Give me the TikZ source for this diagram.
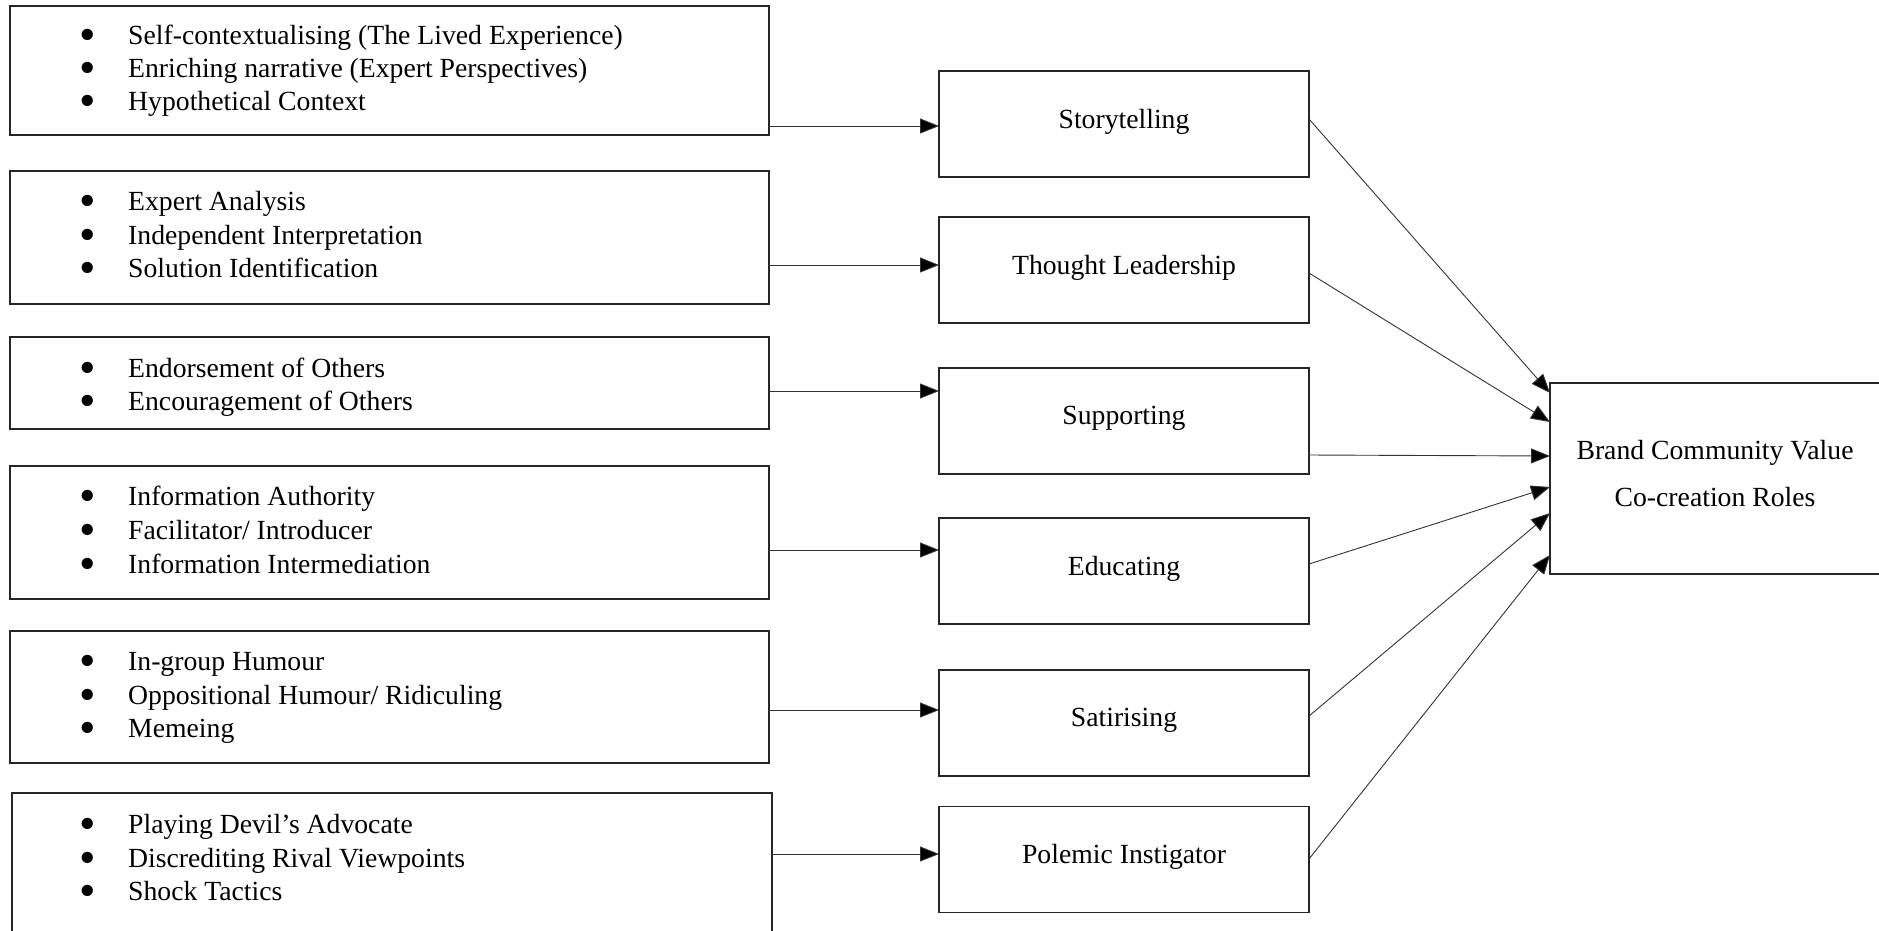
\documentclass[tikz,border=0pt]{standalone}
\usepackage{fontspec}
\usepackage{graphicx}
\setmainfont{Liberation Serif}
\usetikzlibrary{arrows.meta}
\newcommand\bigbul{\smash{\raisebox{-0.22em}{\scalebox{1.7}{\textbullet}}}}
\newcommand\bitem[3]{\node[item] (#1) at (79,#2) {\makebox[49pt][l]{\bigbul}#3};}
\begin{document}
\begin{tikzpicture}[x=1pt,y=-1pt,
  box/.style={draw=black!85,line width=1.1pt,inner sep=0pt,outer sep=0pt},
  item/.style={anchor=base west,inner sep=0pt,font=\fontsize{27.7}{33}\selectfont},
  lab/.style={box,minimum width=370pt,minimum height=106pt,font=\fontsize{27.7}{33}\selectfont},
  arr/.style={draw=black!80,line width=0.9pt,-{Triangle[length=19pt,width=15pt,fill=black]}}]
\useasboundingbox (0,0) rectangle (1879,930);
% left boxes
\node[box,minimum width=759pt,minimum height=129pt] (l1) at (389.5,70.5) {};
\node[box,minimum width=759pt,minimum height=133pt] (l2) at (389.5,237.5) {};
\node[box,minimum width=759pt,minimum height=92pt] (l3) at (389.5,383) {};
\node[box,minimum width=759pt,minimum height=133pt] (l4) at (389.5,532.5) {};
\node[box,minimum width=759pt,minimum height=132pt] (l5) at (389.5,697) {};
\node[box,minimum width=760pt,minimum height=147pt] (l6) at (392,866.5) {};
% bullet items
\bitem{a1}{44}{Self-contextualising (The Lived Experience)}
\bitem{a2}{77}{Enriching narrative (Expert Perspectives)}
\bitem{a3}{110}{Hypothetical Context}
\bitem{b1}{210}{Expert Analysis}
\bitem{b2}{244}{Independent Interpretation}
\bitem{b3}{277}{Solution Identification}
\bitem{c1}{377}{Endorsement of Others}
\bitem{c2}{410}{Encouragement of Others}
\bitem{d1}{505}{Information Authority}
\bitem{d2}{539}{Facilitator/ Introducer}
\bitem{d3}{573}{Information Intermediation}
\bitem{e1}{670}{In-group Humour}
\bitem{e2}{704}{Oppositional Humour/ Ridiculing}
\bitem{e3}{737}{Memeing}
\bitem{f1}{833}{Playing Devil’s Advocate}
\bitem{f2}{867}{Discrediting Rival Viewpoints}
\bitem{f3}{900}{Shock Tactics}
% middle boxes
\node[lab] (m1) at (1124,124) {\raisebox{11pt}{Storytelling}};
\node[lab] (m2) at (1124,270) {\raisebox{11pt}{Thought Leadership}};
\node[lab] (m3) at (1124,421) {\raisebox{11pt}{Supporting}};
\node[lab] (m4) at (1124,571) {\raisebox{11pt}{Educating}};
\node[lab] (m5) at (1124,723) {\raisebox{11pt}{Satirising}};
\node[lab] (m6) at (1124,859.5) {\raisebox{11pt}{Polemic Instigator}};
% right box
\node[box,minimum width=330pt,minimum height=191pt] (r) at (1715,478.5) {};
\node[align=center,inner sep=0pt,font=\fontsize{27.7}{47}\selectfont] (rt) at (1715,473.5)
  {Brand Community Value\\Co-creation Roles};
% left to middle arrows
\draw[arr] ([yshift=-55.5pt]l1.east) -- ([yshift=-2pt]m1.west);
\draw[arr] ([yshift=-27.5pt]l2.east) -- ([yshift=5pt]m2.west);
\draw[arr] ([yshift=-8pt]l3.east) -- ([yshift=30pt]m3.west);
\draw[arr] ([yshift=-17.5pt]l4.east) -- ([yshift=21pt]m4.west);
\draw[arr] ([yshift=-13pt]l5.east) -- ([yshift=13pt]m5.west);
\draw[arr] ([yshift=12.5pt]l6.east) -- ([yshift=5.5pt]m6.west);
% middle to right arrows
\draw[arr] ([yshift=5pt]m1.east) -- ([yshift=85.5pt]r.west);
\draw[arr] ([yshift=-3pt]m2.east) -- ([yshift=56.5pt]r.west);
\draw[arr] ([yshift=-34pt]m3.east) -- ([yshift=22.5pt]r.west);
\draw[arr] ([yshift=7pt]m4.east) -- ([yshift=-8.5pt]r.west);
\draw[arr] ([yshift=7pt]m5.east) -- ([yshift=-34.5pt]r.west);
\draw[arr] ([yshift=0.5pt]m6.east) -- ([yshift=-76.5pt]r.west);
\end{tikzpicture}
\end{document}
